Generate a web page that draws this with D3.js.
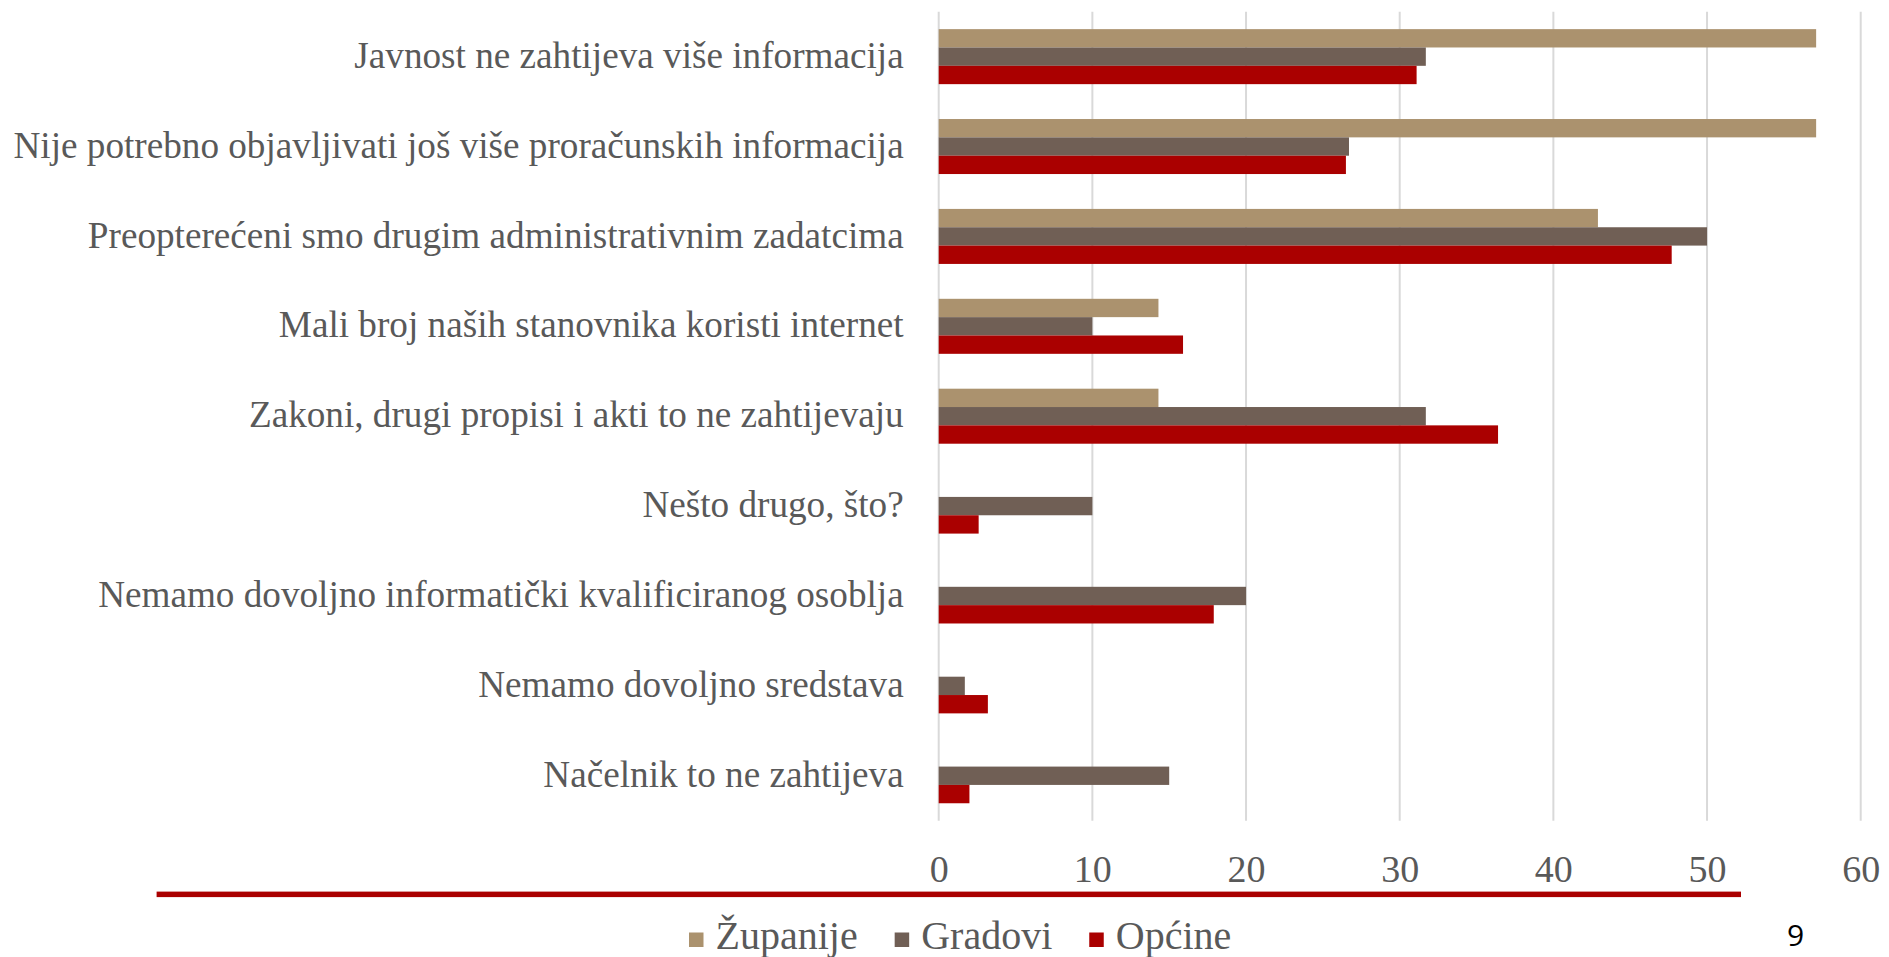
<!DOCTYPE html>
<html>
<head>
<meta charset="utf-8">
<script src="https://cdn.jsdelivr.net/npm/d3@7/dist/d3.min.js"></script>
<style>
  html, body { margin: 0; padding: 0; background: #ffffff; }
  svg { display: block; }
</style>
</head>
<body>
<svg id="chart" width="1889" height="957"></svg>
<script>
// ---- data ----
const categories = [
  "Javnost ne zahtijeva više informacija",
  "Nije potrebno objavljivati još više proračunskih informacija",
  "Preopterećeni smo drugim administrativnim zadatcima",
  "Mali broj naših stanovnika koristi internet",
  "Zakoni, drugi propisi i akti to ne zahtijevaju",
  "Nešto drugo, što?",
  "Nemamo dovoljno informatički kvalificiranog osoblja",
  "Nemamo dovoljno sredstava",
  "Načelnik to ne zahtijeva"
];
const seriesNames = ["Županije", "Gradovi", "Općine"];
const zupanije = [57.1, 57.1, 42.9, 14.3, 14.3, 0, 0, 0, 0];
const gradovi  = [31.7, 26.7, 50.0, 10.0, 31.7, 10.0, 20.0, 1.7, 15.0];
const opcine   = [31.1, 26.5, 47.7, 15.9, 36.4, 2.6, 17.9, 3.2, 2.0];
const tickValues = [0, 10, 20, 30, 40, 50, 60];
const pageNumber = "9";

// ---- styles ----
const colors = ["#AB926E", "#705F55", "#AA0000"];
const textColor = "#595959";
const serif = "'Liberation Serif', 'Times New Roman', serif";

const svg = d3.select("#chart");
svg.append("rect").attr("width", 1889).attr("height", 957).attr("fill", "#fff");

const plot = { left: 938.7, right: 1860.7, top: 11.7, bottom: 820.7 };

const x = d3.scaleLinear().domain([0, 60]).range([plot.left, plot.right]);
const y = d3.scaleBand().domain(categories).range([plot.top, plot.bottom])
  .paddingInner(0.388).paddingOuter(0.194);
const ySub = d3.scaleBand().domain(seriesNames).range([0, y.bandwidth()]);

// gridlines
svg.append("g").selectAll("line").data(tickValues).join("line")
  .attr("x1", d => x(d)).attr("x2", d => x(d))
  .attr("y1", plot.top).attr("y2", plot.bottom)
  .attr("stroke", "#D9D9D9").attr("stroke-width", 2);

// bars
const seriesData = [zupanije, gradovi, opcine];
seriesNames.forEach((name, si) => {
  svg.append("g").selectAll("rect").data(categories).join("rect")
    .attr("x", x(0))
    .attr("y", c => y(c) + ySub(name))
    .attr("width", (c, i) => x(seriesData[si][i]) - x(0))
    .attr("height", ySub.bandwidth())
    .attr("fill", colors[si]);
});

// category labels
svg.append("g").selectAll("text").data(categories).join("text")
  .attr("x", plot.left - 35)
  .attr("y", c => y(c) + y.bandwidth() / 2)
  .attr("dy", "0.3em")
  .attr("text-anchor", "end")
  .attr("font-family", serif)
  .attr("font-size", 37.2)
  .attr("fill", textColor)
  .text(c => c);

// x axis tick labels
const xAxis = d3.axisBottom(x).tickValues(tickValues).tickSize(0).tickPadding(0);
const gx = svg.append("g").attr("transform", `translate(0, ${plot.bottom})`).call(xAxis);
gx.select(".domain").remove();
gx.selectAll("text")
  .attr("y", 61).attr("dy", 0)
  .attr("font-family", serif).attr("font-size", 38).attr("fill", textColor);

// red rule
svg.append("rect").attr("x", 156.6).attr("y", 891.6).attr("width", 1741 - 156.6).attr("height", 5.5)
  .attr("fill", "#AA0000");

// legend
const legend = svg.append("g");
let lx = 689;
seriesNames.forEach((name, i) => {
  legend.append("rect").attr("x", lx).attr("y", 932.5).attr("width", 14.5).attr("height", 14.5)
    .attr("fill", colors[i]);
  const t = legend.append("text").attr("x", lx + 26.5).attr("y", 949)
    .attr("font-family", serif).attr("font-size", 40).attr("fill", textColor).text(name);
  lx += 26.5 + t.node().getComputedTextLength() + 37;
});

// page number
svg.append("text").attr("x", 1795.5).attr("y", 946).attr("text-anchor", "middle")
  .attr("font-family", "'Open Sans', 'Noto Sans', sans-serif").attr("font-size", 30)
  .attr("fill", "#000").text(pageNumber);
</script>
</body>
</html>
